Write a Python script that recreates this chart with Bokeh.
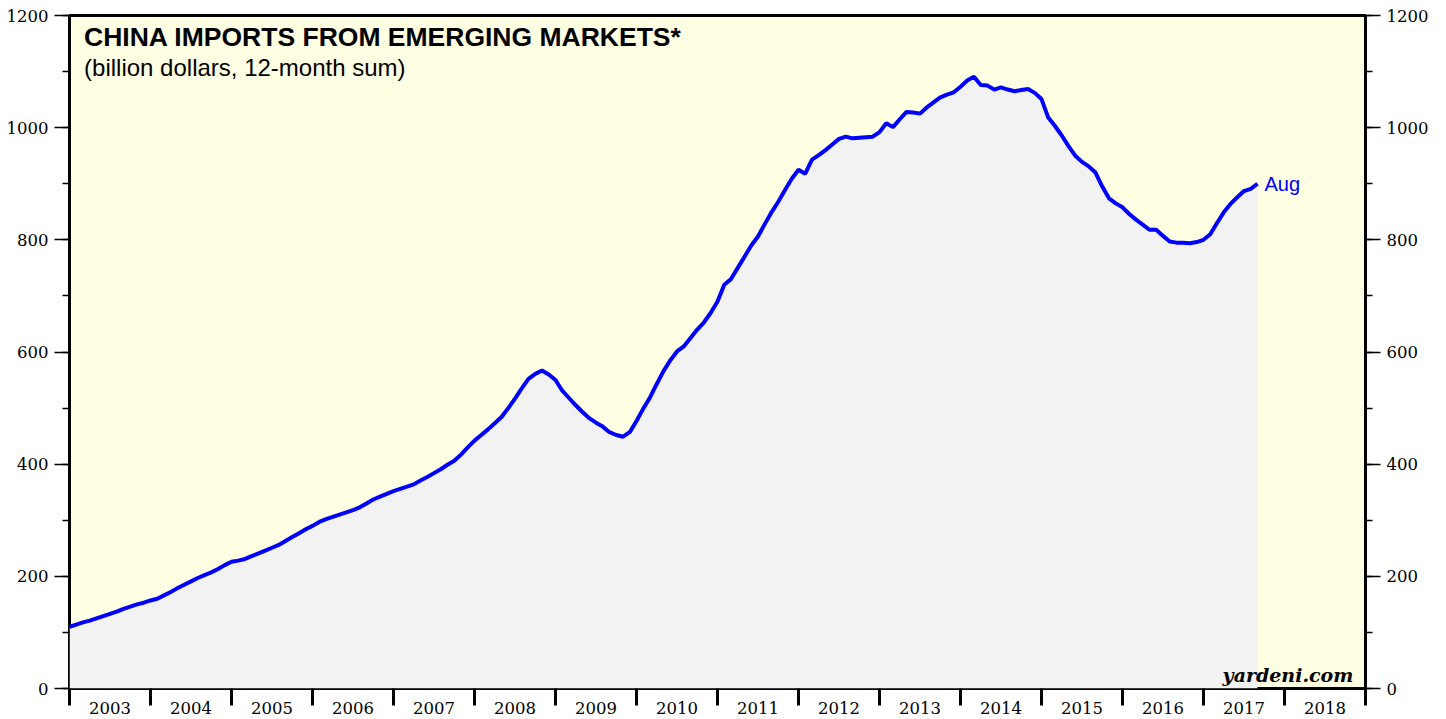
from bokeh.plotting import figure
from bokeh.models import ColumnDataSource, FixedTicker, LinearAxis, Label, Range1d
from bokeh.embed import file_html
from bokeh.resources import INLINE

# ---- data: 12-month sum, billion dollars, month-end values ----
dec2002 = [110]
y2003 = [114, 118, 121, 125, 129, 133, 137, 142, 146, 150, 153, 157]
y2004 = [160, 166, 172, 179, 185, 191, 197, 202, 207, 213, 220, 226]
y2005 = [228, 231, 236, 241, 246, 251, 256, 263, 270, 277, 284, 290]
y2006 = [297, 302, 306, 310, 314, 318, 323, 330, 337, 342, 347, 352]
y2007 = [356, 360, 364, 371, 377, 384, 391, 399, 406, 417, 430, 442]
y2008 = [452, 462, 473, 484, 500, 517, 535, 552, 561, 567, 560, 550]
y2009 = [531, 518, 505, 493, 482, 474, 467, 457, 452, 449, 457, 477]
y2010 = [499, 519, 543, 566, 585, 601, 610, 625, 640, 653, 670, 690]
y2011 = [720, 730, 750, 770, 790, 806, 828, 849, 868, 889, 909, 925]
y2012 = [918, 943, 951, 960, 970, 980, 984, 981, 982, 983, 984, 992]
y2013 = [1008, 1001, 1015, 1028, 1027, 1025, 1036, 1045, 1054, 1059, 1063, 1073]
y2014 = [1084, 1091, 1076, 1075, 1068, 1072, 1068, 1065, 1067, 1069, 1062, 1051]
y2015 = [1018, 1003, 986, 967, 950, 939, 931, 920, 895, 874, 865, 858]
y2016 = [846, 836, 827, 818, 818, 807, 797, 795, 795, 794, 796, 800]
y2017 = [810, 830, 849, 864, 876, 887, 891, 900]

year_labels = [str(y) for y in range(2003, 2019)]
y_ticks = [0, 200, 400, 600, 800, 1000, 1200]
y_minor = list(range(0, 1201, 100))

title_text = "CHINA IMPORTS FROM EMERGING MARKETS*"
subtitle_text = "(billion dollars, 12-month sum)"
last_label = "Aug"
source_text = "yardeni.com"

values = (dec2002 + y2003 + y2004 + y2005 + y2006 + y2007 + y2008 + y2009 +
          y2010 + y2011 + y2012 + y2013 + y2014 + y2015 + y2016 + y2017)
t = [2003 + i / 12 for i in range(len(values))]
src = ColumnDataSource(dict(t=t, v=values, zero=[0] * len(values)))

SERIF = "DejaVu Serif"
SANS = "Liberation Sans"

p = figure(width=1446, height=719, output_backend="svg", toolbar_location=None,
           x_range=Range1d(2003, 2019), y_range=Range1d(0, 1200),
           min_border_left=69, min_border_right=81, min_border_top=15,
           min_border_bottom=31)
p.background_fill_color = "#ffffe3"
p.border_fill_color = "white"
p.outline_line_color = "black"
p.outline_line_width = 3
p.grid.visible = False

p.varea(x="t", y1="zero", y2="v", source=src, fill_color="#f2f2f2")
p.line(x="t", y="v", source=src, line_color="#0000ff", line_width=4)

# x axis: labels mid-year, ticks at year boundaries
xa = p.xaxis[0]
mids = [2003.5 + i for i in range(len(year_labels))]
xa.ticker = FixedTicker(ticks=mids, minor_ticks=list(range(2003, 2020)))
xa.major_label_overrides = {m: lab for m, lab in zip(mids, year_labels)}
xa.major_tick_out = 0
xa.major_tick_in = 0
xa.minor_tick_out = 17
xa.minor_tick_in = 0
xa.minor_tick_line_width = 3
xa.minor_tick_line_color = "black"
xa.axis_line_color = None
xa.major_label_standoff = -4
xa.major_label_text_font = SERIF
xa.major_label_text_font_size = "16.5px"
xa.major_label_text_color = "black"

def style_y(ax):
    ax.ticker = FixedTicker(ticks=y_ticks, minor_ticks=y_minor)
    ax.major_tick_out = 15
    ax.major_tick_in = 0
    ax.minor_tick_out = 7
    ax.minor_tick_in = 0
    ax.major_tick_line_width = 1.5
    ax.minor_tick_line_width = 1.5
    ax.major_tick_line_color = "black"
    ax.minor_tick_line_color = "black"
    ax.axis_line_color = None
    ax.major_label_standoff = 6
    ax.major_label_text_font = SERIF
    ax.major_label_text_font_size = "16.5px"
    ax.major_label_text_color = "black"

style_y(p.yaxis[0])
ry = LinearAxis()
style_y(ry)
p.add_layout(ry, "right")

p.add_layout(Label(x=2003.18, y=1188, text=title_text, text_font=SANS,
                   text_font_style="bold", text_font_size="26.5px",
                   text_baseline="top", text_color="black"))
p.add_layout(Label(x=2003.18, y=1131, text=subtitle_text, text_font=SANS,
                   text_font_size="24px", text_baseline="top", text_color="black"))
p.add_layout(Label(x=t[-1], y=values[-1], x_offset=7, text=last_label,
                   text_font=SANS, text_font_size="20px", text_baseline="middle",
                   text_color="#0000ff"))
p.add_layout(Label(x=2018.85, y=24, text=source_text, text_font=SERIF,
                   text_font_style="bold italic", text_font_size="19px",
                   text_align="right", text_baseline="alphabetic", text_color="black"))

open("out.html", "w").write(file_html(p, INLINE))
